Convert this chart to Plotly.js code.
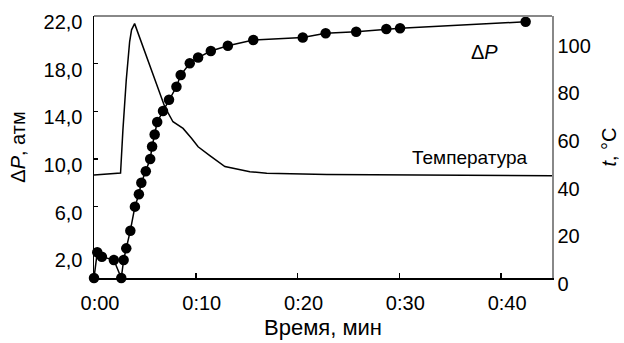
<!DOCTYPE html>
<html>
<head>
<meta charset="utf-8">
<script src="https://cdn.plot.ly/plotly-3.0.1.min.js"></script>
<style>html,body{margin:0;padding:0;background:#fff;}#chart{width:624px;height:343px;}</style>
</head>
<body>
<div id="chart"></div>
<script>
// Time in minutes
const dpTime = [0, 0.32, 0.77, 1.95, 2.68, 2.91, 3.17, 3.57, 4.02, 4.41, 4.65, 5.09, 5.52, 5.71, 5.96, 6.21, 6.78, 7.37, 8.10, 8.52, 9.41, 10.23, 11.48, 13.15, 15.65, 20.51, 22.76, 25.76, 28.72, 30.07, 42.41];
const dpValues = [0, 2.16, 1.79, 1.51, 0, 1.51, 2.49, 3.97, 5.99, 7.03, 8.0, 8.96, 9.99, 11.04, 12.05, 13.10, 14.02, 14.97, 16.06, 17.04, 18.03, 18.51, 19.06, 19.50, 19.98, 20.19, 20.55, 20.68, 20.91, 20.97, 21.52];

const tempTime = [0, 2.61, 2.84, 3.17, 3.50, 3.69, 3.99, 4.81, 5.64, 6.29, 6.95, 7.76, 8.75, 9.58, 10.23, 11.38, 12.86, 15.32, 16.97, 22.88, 32.07, 45.0];
const tempValues = [43.2, 44.1, 62.1, 83.1, 99.1, 104.2, 106.8, 97.1, 87.3, 79.0, 71.9, 65.6, 62.8, 58.7, 55.1, 51.4, 46.8, 44.6, 44.0, 43.5, 43.2, 42.9];

const xTickVals = [0, 10, 20, 30, 40];
const xTickText = ["0:00", "0:10", "0:20", "0:30", "0:40"];
const dpTickVals = [2, 6, 10, 14, 18, 22];
const dpTickText = ["2,0", "6,0", "10,0", "14,0", "18,0", "22,0"];
const tTickVals = [0, 20, 40, 60, 80, 100];

const FONT = "Liberation Sans";

const traces = [
  {
    x: tempTime, y: tempValues, yaxis: 'y2', type: 'scatter', mode: 'lines',
    line: {color: '#000', width: 1.5}, name: 'Температура', hoverinfo: 'skip'
  },
  {
    x: dpTime, y: dpValues, type: 'scatter', mode: 'lines+markers',
    line: {color: '#000', width: 1.5},
    marker: {color: '#000', size: 10.5},
    name: 'ΔP', cliponaxis: false
  }
];

const layout = {
  width: 624, height: 343,
  margin: {l: 94, r: 72, t: 16, b: 65},
  paper_bgcolor: '#fff', plot_bgcolor: '#fff',
  showlegend: false,
  font: {family: FONT, size: 20, color: '#000'},
  xaxis: {
    range: [0, 45], tickvals: xTickVals, ticktext: xTickText,
    showgrid: false, zeroline: false,
    showline: true, linecolor: '#000', linewidth: 1.5,
    ticks: 'inside', ticklen: 5, tickcolor: '#000', tickwidth: 1.5,
    ticklabelstandoff: 6, ticklabelshift: 6,
    tickfont: {family: FONT, size: 20},
    title: {text: 'Время, мин', font: {family: FONT, size: 22}, standoff: 7}
  },
  yaxis: {
    range: [0, 22], tickvals: dpTickVals, ticktext: dpTickText,
    showgrid: false, zeroline: false,
    showline: true, linecolor: '#000', linewidth: 1.5,
    ticks: 'inside', ticklen: 4, tickcolor: '#000', tickwidth: 1.5,
    ticklabelstandoff: 6, ticklabelshift: 6,
    tickfont: {family: FONT, size: 20},
    title: {text: 'Δ<i>P</i>, атм', font: {family: FONT, size: 20}, standoff: 12}
  },
  yaxis2: {
    overlaying: 'y', side: 'right',
    range: [0, 110], tickvals: tTickVals,
    showgrid: false, zeroline: false,
    showline: true, linecolor: '#888', linewidth: 1.5,
    ticks: '', ticklabelshift: 6,
    tickfont: {family: FONT, size: 20},
    title: {text: '<i>t</i>, °C', font: {family: FONT, size: 20}, standoff: 12}
  },
  shapes: [
    {type: 'line', xref: 'paper', yref: 'paper', x0: 0, x1: 1, y0: 1, y1: 1,
     line: {color: '#888', width: 2}}
  ],
  annotations: [
    {xref: 'paper', yref: 'paper', x: 0.852, y: 0.863, text: 'Δ<i>P</i>', showarrow: false,
     font: {family: FONT, size: 20}, xanchor: 'center', yanchor: 'middle'},
    {xref: 'paper', yref: 'paper', x: 0.82, y: 0.46, text: 'Температура', showarrow: false,
     font: {family: FONT, size: 19}, xanchor: 'center', yanchor: 'middle'}
  ]
};

Plotly.newPlot('chart', traces, layout, {displayModeBar: false, staticPlot: true});
</script>
</body>
</html>
